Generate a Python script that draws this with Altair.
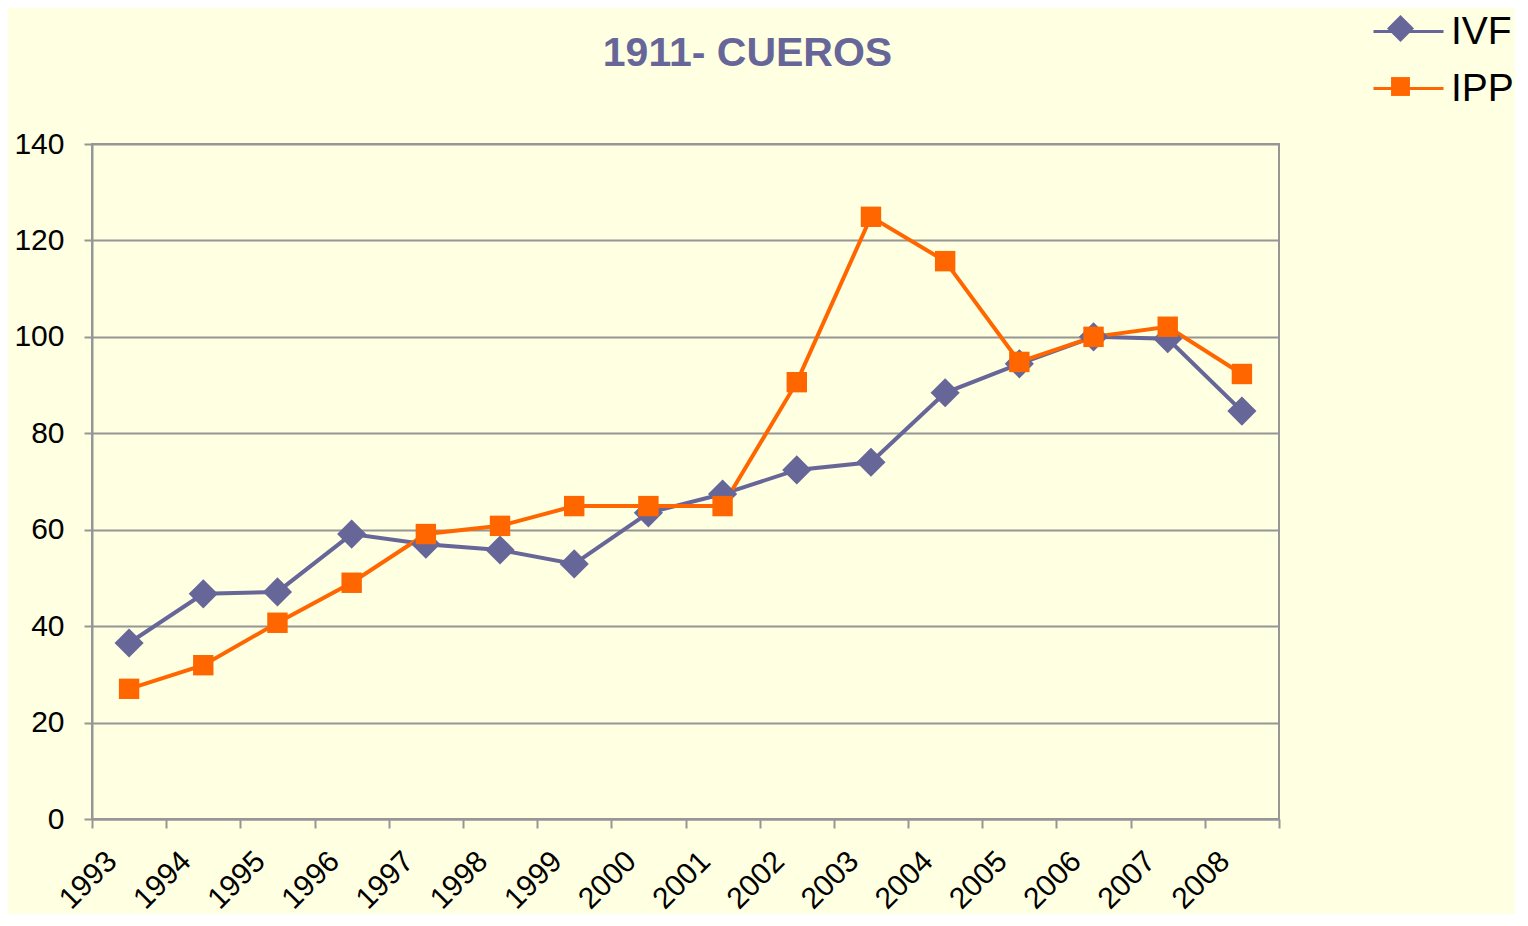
import altair as alt
import pandas as pd

years = list(range(1993, 2009))
ivf = [36.5, 46.7, 47.1, 59.1, 57.0, 55.8, 52.9, 63.5, 67.4, 72.4, 74.0, 88.4, 94.4, 100.0, 99.6, 84.6]
ipp = [27.0, 31.9, 40.7, 49.0, 59.1, 60.8, 64.9, 64.9, 64.9, 90.6, 124.9, 115.7, 94.8, 100.0, 102.1, 92.3]
series = ["IVF", "IPP"]
colors = ["#666699", "#FF6600"]
y_ticks = [0, 20, 40, 60, 80, 100, 120, 140]
x_ticks = list(range(1993, 2010))
marker_paths = ["M0,-1L1,0L0,1L-1,0Z", "M-0.7,-0.7H0.7V0.7H-0.7Z"]

rows = []
for yr, a, b in zip(years, ivf, ipp):
    rows.append({"year": yr, "series": "IVF", "value": a})
    rows.append({"year": yr, "series": "IPP", "value": b})
df = pd.DataFrame(rows)

FONT = "Liberation Sans"
GRAY = "#969696"

x_enc = alt.X(
    "xpos:Q",
    scale=alt.Scale(domain=[1993, 2009], nice=False, zero=False),
    axis=alt.Axis(
        values=x_ticks, format="d",
        labelExpr="datum.value >= 2009 ? '' : datum.label",
        labelAngle=-45, labelAlign="center", labelBaseline="middle",
        labelPadding=52, labelOffset=-4, labelFontSize=30, labelFont=FONT,
        labelColor="#000000", tickSize=9, tickWidth=2, tickColor=GRAY,
        domainColor=GRAY, domainWidth=2, grid=False, title=None,
        labelOverlap=False,
    ),
)
y_enc = alt.Y(
    "value:Q",
    scale=alt.Scale(domain=[0, 140], nice=False),
    axis=alt.Axis(
        values=y_ticks, labelFontSize=30, labelFont=FONT, labelColor="#000000",
        tickSize=8, tickWidth=2, tickColor=GRAY, labelPadding=20,
        domainColor=GRAY, domainWidth=2, gridColor=GRAY, gridWidth=2,
        title=None,
    ),
)

base = alt.Chart(df).transform_calculate(xpos="datum.year + 0.5")

# legend with the line part and the series names
leg_lines = alt.Legend(
    orient="none", legendX=1280, legendY=-149, title=None,
    labelFontSize=39, labelFont=FONT, labelColor="#000000",
    symbolSize=4900, symbolStrokeWidth=3, symbolOpacity=1,
    symbolType="M-1,0H1", labelOffset=6, rowPadding=0,
)
# marker-only legends laid over the line symbols
leg_ivf_marker = alt.Legend(
    orient="none", legendX=1295, legendY=-129, title=None, values=["IVF"],
    labelExpr="''", labelFontSize=27, labelOffset=0,
    symbolType=marker_paths[0], symbolSize=729, symbolStrokeWidth=0, symbolOpacity=1,
)
leg_ipp_marker = alt.Legend(
    orient="none", legendX=1295, legendY=-71, title=None, values=["IPP"],
    labelExpr="''", labelFontSize=27, labelOffset=0,
    symbolType=marker_paths[1], symbolSize=729, symbolStrokeWidth=0, symbolOpacity=1,
    symbolFillColor=colors[1],
)

lines = base.mark_line(strokeWidth=4).encode(
    x=x_enc, y=y_enc,
    color=alt.Color("series:N", scale=alt.Scale(domain=series, range=colors), legend=leg_lines),
    order=alt.Order("year:Q"),
)

points = base.mark_point(filled=True, size=850, opacity=1, strokeWidth=0).encode(
    x=x_enc, y=y_enc,
    fill=alt.Fill("series:N", sort=series, scale=alt.Scale(range=colors), legend=leg_ivf_marker),
    stroke=alt.Stroke("series:N", sort="descending", scale=alt.Scale(range=colors), legend=leg_ipp_marker),
    shape=alt.Shape("series:N", sort=series, scale=alt.Scale(range=marker_paths), legend=None),
)

chart = (
    alt.layer(lines, points)
    .properties(
        width=1187, height=675,
        title=alt.Title(
            "1911- CUEROS", fontSize=41, font=FONT, fontWeight="bold",
            color="#666699", anchor="middle", dx=62, dy=140, offset=60,
        ),
        background="#FFFFE1",
        padding={"left": 84, "top": 136, "right": 236, "bottom": 95},
        autosize=alt.AutoSizeParams(type="none"),
    )
    .configure_view(stroke=GRAY, strokeWidth=2)
)

chart.save("out.html", embed_options={"renderer": "svg", "actions": False})
